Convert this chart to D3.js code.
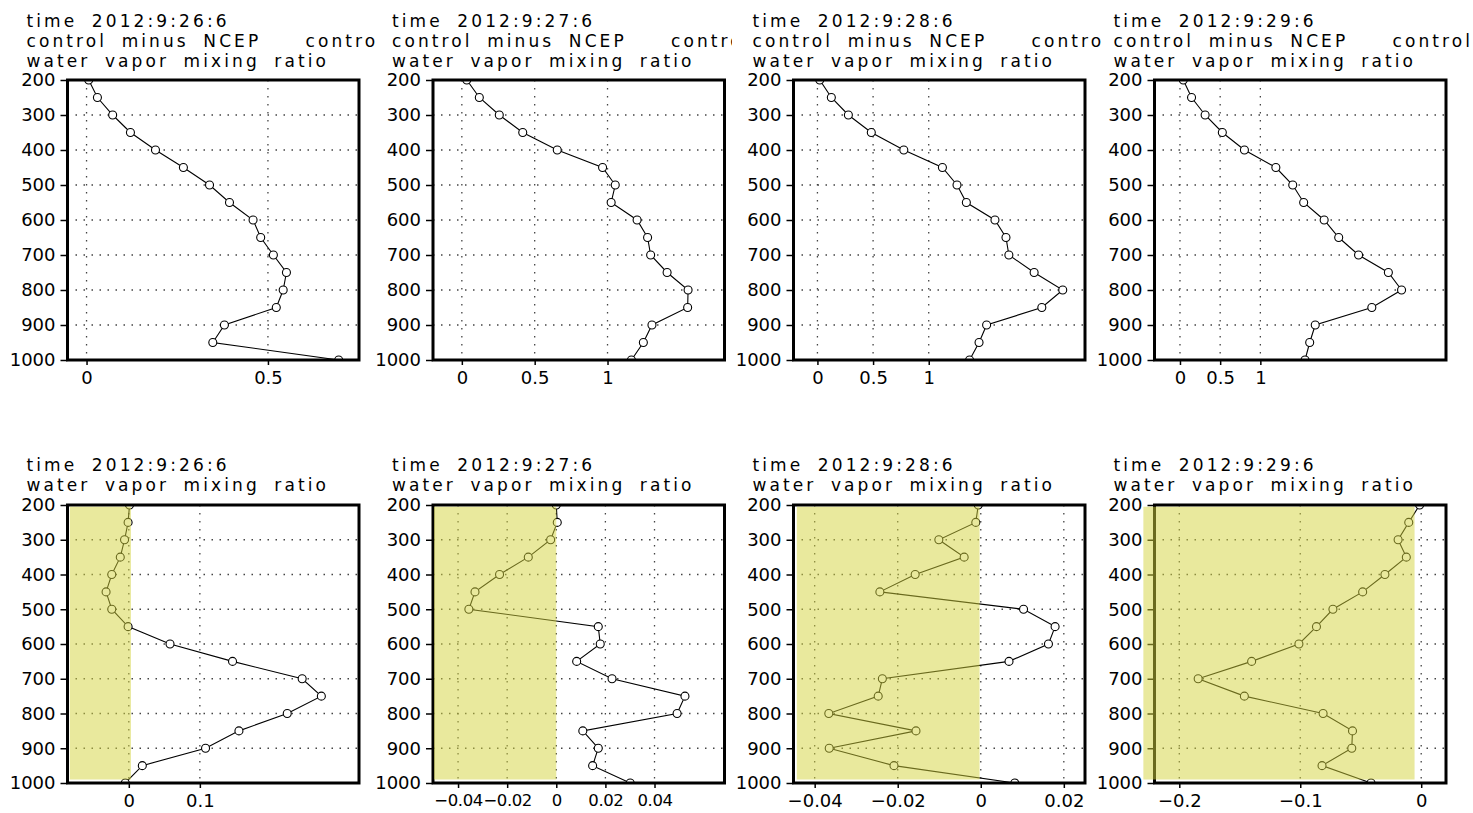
<!DOCTYPE html>
<html>
<head>
<meta charset="utf-8">
<script src="https://cdn.jsdelivr.net/npm/d3@7"></script>
<style>
  html, body { margin: 0; padding: 0; background: #fff; }
  svg { display: block; }
  text { font-family: "DejaVu Sans", sans-serif; fill: #000; }
</style>
</head>
<body>
<svg id="chart" width="1473" height="813"></svg>
<script>
// ---------------- data ----------------
const pressure = [200,250,300,350,400,450,500,550,600,650,700,750,800,850,900,950,1000];
const yTicks = [200,300,400,500,600,700,800,900,1000];

const times = ["time 2012:9:26:6","time 2012:9:27:6","time 2012:9:28:6","time 2012:9:29:6"];
const titleTop2 = "control minus NCEP";
const titleTop2b = "control";
const titleVar = "water vapor mixing ratio";

// top row: control minus NCEP
const top26 = [0.006,0.030,0.072,0.121,0.190,0.267,0.339,0.394,0.459,0.480,0.515,0.551,0.542,0.523,0.380,0.348,0.695];
const top27 = [0.034,0.120,0.257,0.418,0.655,0.966,1.053,1.025,1.203,1.275,1.296,1.409,1.553,1.550,1.305,1.246,1.164];
const top28 = [0.021,0.125,0.278,0.484,0.776,1.123,1.254,1.338,1.595,1.694,1.720,1.947,2.204,2.016,1.520,1.452,1.367];
const top29 = [0.041,0.144,0.313,0.527,0.802,1.193,1.403,1.539,1.794,1.975,2.222,2.593,2.757,2.387,1.683,1.614,1.556];

// bottom row
const bot26 = [0.001,-0.001,-0.006,-0.012,-0.024,-0.032,-0.024,-0.001,0.058,0.146,0.244,0.271,0.223,0.155,0.108,0.019,-0.005];
const bot27 = [0.0000,0.0004,-0.0023,-0.0114,-0.0231,-0.0331,-0.0356,0.0171,0.0179,0.0083,0.0227,0.0524,0.0492,0.0108,0.0171,0.0148,0.0301];
const bot28 = [-0.0006,-0.0012,-0.0101,-0.0040,-0.0158,-0.0243,0.0103,0.0179,0.0163,0.0068,-0.0237,-0.0247,-0.0366,-0.0156,-0.0365,-0.0209,0.0082];
const bot29 = [-0.0013,-0.0103,-0.0191,-0.0123,-0.0300,-0.0484,-0.0730,-0.0866,-0.1011,-0.1402,-0.1844,-0.1462,-0.0811,-0.0568,-0.0574,-0.0820,-0.0415];

// x axis ranges and tick labels
const xDomains = [[-0.0525,0.751],[-0.198,1.803],[-0.215,2.404],[-0.317,3.31],
                  [-0.0863,0.324],[-0.0502,0.0685],[-0.0451,0.0251],[-0.2205,0.0205]];
const xTickValues = [[0,0.5],[0,0.5,1],[0,0.5,1],[0,0.5,1],
                     [0,0.1],[-0.04,-0.02,0,0.02,0.04],[-0.04,-0.02,0,0.02],[-0.2,-0.1,0]];
const xTickLabels = [["0","0.5"],["0","0.5","1"],["0","0.5","1"],["0","0.5","1"],
                     ["0","0.1"],["\u22120.04","\u22120.02","0","0.02","0.04"],["\u22120.04","\u22120.02","0","0.02"],["\u22120.2","\u22120.1","0"]];

// shaded (negative) band in bottom row: x range and pressure range
const shadeX = [[-0.083,0.003],[-0.0498,0.0],[-0.0443,-0.0003],[-0.2297,-0.0055]];
const shadeP = [205,990];

const series = [top26,top27,top28,top29,bot26,bot27,bot28,bot29];

// ---------------- layout ----------------
const frameLeft = [67.5,433,793.5,1154.5];
const frameW = 291.5;
const rowTop = [80,505];
const rowBot = [360,783];
const textClipRight = [377,732,1101,1473];
const xTickFont = [18,18,18,18,18,16.5,18,18];
const xTickSpacing = [0,0,0,0,0,-0.4,0,0];

const svg = d3.select("#chart");
const defs = svg.append("defs");

for (let i = 0; i < 8; i++) {
  const row = i < 4 ? 0 : 1;
  const col = i % 4;
  const L = frameLeft[col], R = L + frameW;
  const T = rowTop[row], B = rowBot[row];

  const x = d3.scaleLinear().domain(xDomains[i]).range([L, R]);
  const y = d3.scaleLinear().domain([200,1000]).range([T, B]);

  const g = svg.append("g");

  // titles
  const tclip = "tclip" + i;
  defs.append("clipPath").attr("id", tclip).append("rect")
    .attr("x", 0).attr("y", 0).attr("width", textClipRight[col]).attr("height", 813);
  const tg = g.append("g").attr("clip-path", `url(#${tclip})`)
    .style("font-size", "17px").style("letter-spacing", "3.1px").style("word-spacing", "6px");
  const tx = L - 41;
  if (row === 0) {
    tg.append("text").attr("x", tx).attr("y", 26.5).text(times[col]);
    tg.append("text").attr("x", tx).attr("y", 46.5).text(titleTop2);
    tg.append("text").attr("x", tx + 279).attr("y", 46.5).text(titleTop2b);
    tg.append("text").attr("x", tx).attr("y", 66.5).text(titleVar);
  } else {
    tg.append("text").attr("x", tx).attr("y", 471).text(times[col]);
    tg.append("text").attr("x", tx).attr("y", 491).text(titleVar);
  }

  // grid
  const grid = g.append("g").attr("stroke", "#444").attr("stroke-width", 1.3)
    .attr("stroke-dasharray", "1.5,6.5").attr("fill", "none");
  grid.selectAll("line.h").data(yTicks).join("line")
    .attr("x1", L).attr("x2", R).attr("y1", d => y(d)).attr("y2", d => y(d));
  grid.selectAll("line.v").data(xTickValues[i]).join("line")
    .attr("y1", T).attr("y2", B).attr("x1", d => x(d)).attr("x2", d => x(d));

  // data
  const cid = "pclip" + i;
  defs.append("clipPath").attr("id", cid).append("rect")
    .attr("x", L).attr("y", T).attr("width", R - L).attr("height", B - T);
  const dg = g.append("g").attr("clip-path", `url(#${cid})`);
  const pts = pressure.map((p, k) => [series[i][k], p]);
  const line = d3.line().x(d => x(d[0])).y(d => y(d[1]));
  dg.append("path").datum(pts).attr("d", line)
    .attr("fill", "none").attr("stroke", "#000").attr("stroke-width", 1.1);
  dg.selectAll("circle").data(pts).join("circle")
    .attr("cx", d => x(d[0])).attr("cy", d => y(d[1])).attr("r", 4)
    .attr("fill", "#fff").attr("stroke", "#000").attr("stroke-width", 1.1);

  // axes
  const ya = g.append("g").attr("transform", `translate(${L},0)`)
    .call(d3.axisLeft(y).tickValues(yTicks).tickFormat(d3.format("d")).tickSize(7).tickPadding(5));
  ya.select(".domain").remove();
  ya.selectAll("line").attr("stroke", "#000").attr("stroke-width", 1.5);
  ya.selectAll("text").style("font-size", "18px").attr("fill", "#000");

  const xa = g.append("g").attr("transform", `translate(0,${B})`)
    .call(d3.axisBottom(x).tickValues(xTickValues[i]).tickFormat((d, k) => xTickLabels[i][k]).tickSize(5).tickPadding(6));
  xa.select(".domain").remove();
  xa.selectAll("line").attr("stroke", "#000").attr("stroke-width", 1.5);
  xa.selectAll("text").style("font-size", xTickFont[i] + "px")
    .style("letter-spacing", xTickSpacing[i] + "px").attr("fill", "#000");

  // frame
  g.append("rect").attr("x", L).attr("y", T).attr("width", R - L).attr("height", B - T)
    .attr("fill", "none").attr("stroke", "#000").attr("stroke-width", 3);

  // shading overlay (bottom row)
  if (row === 1) {
    const s = shadeX[col];
    g.append("rect")
      .attr("x", x(s[0])).attr("width", x(s[1]) - x(s[0]))
      .attr("y", y(shadeP[0])).attr("height", y(shadeP[1]) - y(shadeP[0]))
      .attr("fill", "rgb(212,212,60)").attr("fill-opacity", 0.5);
  }
}
</script>
</body>
</html>
